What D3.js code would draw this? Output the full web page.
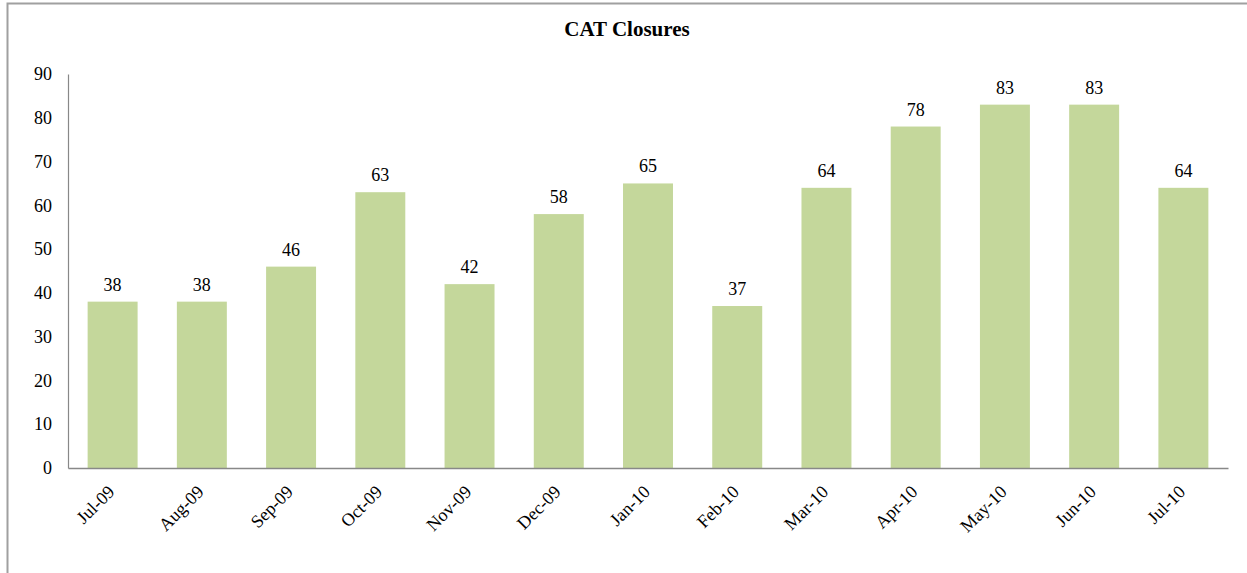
<!DOCTYPE html>
<html>
<head>
<meta charset="utf-8">
<script src="https://cdn.jsdelivr.net/npm/d3@7"></script>
<style>
  body { margin: 0; background: #fff; }
  svg { display: block; font-family: "Liberation Serif", "Times New Roman", serif; }
</style>
</head>
<body>
<svg id="chart"></svg>
<script>
// chart data
const months = ['Jul-09', 'Aug-09', 'Sep-09', 'Oct-09', 'Nov-09', 'Dec-09', 'Jan-10',
  'Feb-10', 'Mar-10', 'Apr-10', 'May-10', 'Jun-10', 'Jul-10']
const closures = [38, 38, 46, 63, 42, 58, 65, 37, 64, 78, 83, 83, 64]
const yTicks = [0, 10, 20, 30, 40, 50, 60, 70, 80, 90]

const W = 1247
const H = 573
const font = '"Liberation Serif", "Times New Roman", serif'

// plot area
const margin = { top: 74, right: 20, bottom: 105, left: 68 }
const plotW = 1228 - margin.left
const plotH = H - margin.top - margin.bottom

const svg = d3.select('#chart')
  .attr('width', W)
  .attr('height', H)

// frame, only top and left edges visible
svg.append('rect')
  .attr('x', 7.5)
  .attr('y', 3.5)
  .attr('width', 1300)
  .attr('height', 700)
  .attr('fill', 'none')
  .attr('stroke', '#a0a0a0')
  .attr('stroke-width', 2)

svg.append('text')
  .attr('x', 627)
  .attr('y', 36)
  .attr('text-anchor', 'middle')
  .attr('font-size', 21)
  .attr('font-weight', 'bold')
  .text('CAT Closures')

const g = svg.append('g')
  .attr('transform', `translate(${margin.left}, ${margin.top})`)

const x = d3.scaleBand()
  .domain(months)
  .range([0, plotW])
  .paddingInner(0.44)
  .paddingOuter(0.22)

const y = d3.scaleLinear()
  .domain([0, 90])
  .range([plotH, 0])

// bars
g.selectAll('.bar')
  .data(closures)
  .join('rect')
  .attr('class', 'bar')
  .attr('x', (d, i) => x(months[i]))
  .attr('y', d => y(d))
  .attr('width', x.bandwidth())
  .attr('height', d => plotH - y(d))
  .attr('fill', '#c4d79b')

// value labels
g.selectAll('.val')
  .data(closures)
  .join('text')
  .attr('class', 'val')
  .attr('x', (d, i) => x(months[i]) + x.bandwidth() / 2)
  .attr('y', d => y(d) - 11)
  .attr('text-anchor', 'middle')
  .attr('font-size', 18)
  .attr('fill', '#000')
  .text(d => d)

// y axis
const yAxis = g.append('g')
  .call(d3.axisLeft(y).tickValues(yTicks).tickSize(0).tickPadding(16))
  .attr('font-family', font)
  .attr('font-size', 18)
yAxis.select('.domain').attr('stroke', '#888').attr('stroke-width', 1.2)
yAxis.selectAll('text').attr('fill', '#000')

// x axis
const xAxis = g.append('g')
  .attr('transform', `translate(0, ${plotH})`)
  .call(d3.axisBottom(x).tickSize(0).tickPadding(0))
  .attr('font-family', font)
  .attr('font-size', 18)
xAxis.select('.domain').attr('stroke', '#888').attr('stroke-width', 1.5)
xAxis.selectAll('text')
  .attr('fill', '#000')
  .attr('text-anchor', 'end')
  .attr('dy', null)
  .attr('transform', 'translate(3, 25) rotate(-45)')
</script>
</body>
</html>
